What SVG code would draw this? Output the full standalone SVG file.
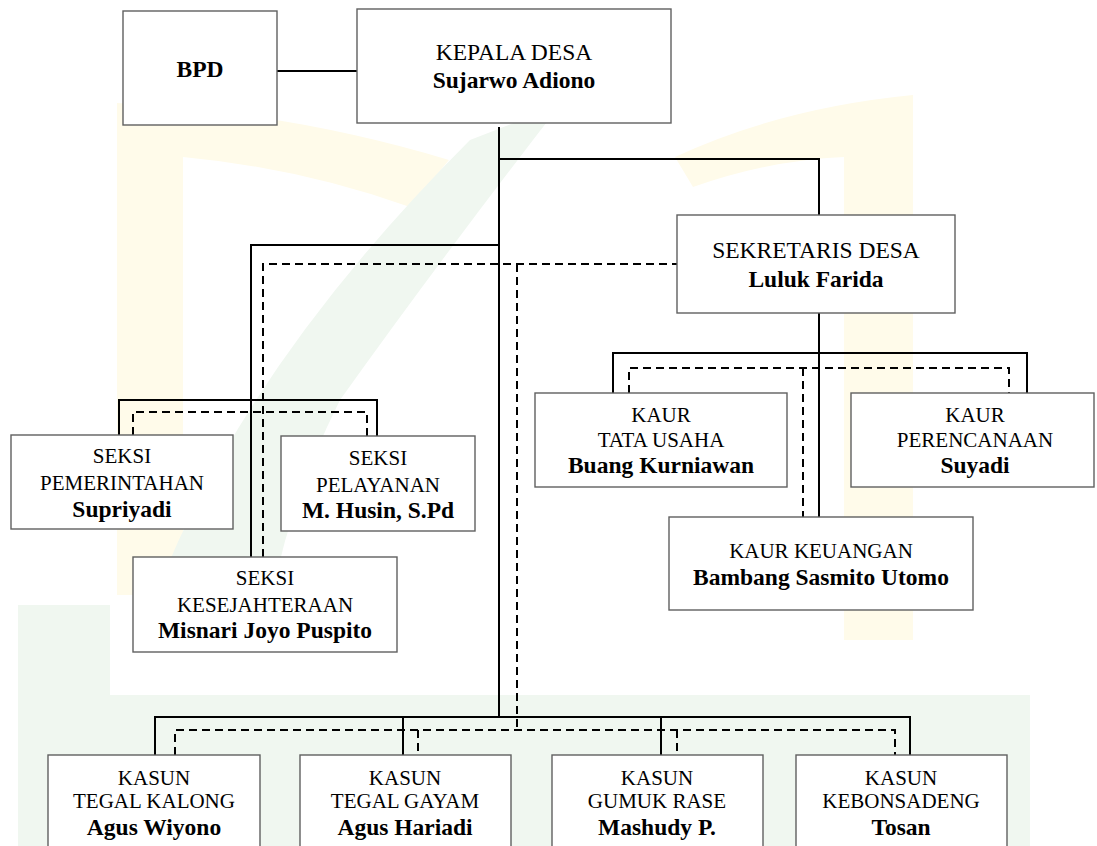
<svg xmlns="http://www.w3.org/2000/svg" width="1097" height="846" viewBox="0 0 1097 846">
<style>
.bx{fill:#fff;stroke:#606060;stroke-width:1.4}
.ln{fill:none;stroke:#000;stroke-width:2}
.ds{fill:none;stroke:#000;stroke-width:2;stroke-dasharray:8 5}
text{font-family:"Liberation Serif","Times New Roman",serif;text-anchor:middle;fill:#000}
.r{font-size:21px}
.t{font-size:23.5px}
.b{font-size:23.5px;font-weight:bold}
.wy{fill:#fffbea}
.wg{fill:#f0f7f0}
</style>
<rect width="1097" height="846" fill="#fff"/>
<g id="watermark">
<path class="wy" d="M117 595 V103 Q290 112 449 160 L410 207 Q300 168 183 157 V595 Z"/>
<path class="wy" d="M913 640 V95 Q780 108 675 157 L693 187 Q770 160 844 157 V640 Z"/>
<path class="wg" d="M140 640 Q220 390 470 140 L560 105 Q440 260 340 400 Q280 520 265 640 Z"/>
<path class="wg" d="M18 605 H110 V695 H1030 V846 H18 Z"/>
</g>
<g id="connectors">
<path class="ln" d="M277 71 H357"/>
<path class="ln" d="M499 127 V717"/>
<path class="ln" d="M499 159 H819 V215"/>
<path class="ln" d="M819 313 V517"/>
<path class="ln" d="M613 393 V353 H1027 V393"/>
<path class="ds" d="M629 393 V368 H1009 V393"/>
<path class="ds" d="M803 368 V517"/>
<path class="ln" d="M251 557 V245 H499"/>
<path class="ds" d="M263 557 V264 H677"/>
<path class="ds" d="M517 264 V730"/>
<path class="ln" d="M119 435 V400 H377 V436"/>
<path class="ds" d="M133 435 V412 H367 V436"/>
<path class="ln" d="M155 755 V717 H910 V755"/>
<path class="ln" d="M403 717 V755"/>
<path class="ln" d="M661 717 V755"/>
<path class="ds" d="M175 755 V730 H895 V755"/>
<path class="ds" d="M418 730 V755"/>
<path class="ds" d="M677 730 V755"/>
</g>
<g id="bpd"><rect class="bx" x="123" y="11" width="154" height="114"/><text class="b" x="200" y="77">BPD</text></g>
<g id="kepala"><rect class="bx" x="357" y="9" width="314" height="114"/><text class="t" x="514" y="60">KEPALA DESA</text><text class="b" x="514" y="88">Sujarwo Adiono</text></g>
<g id="sekretaris"><rect class="bx" x="677" y="215" width="278" height="98"/><text class="t" x="816" y="258">SEKRETARIS DESA</text><text class="b" x="816" y="287">Luluk Farida</text></g>
<g id="seksi-pemerintahan"><rect class="bx" x="11" y="435" width="222" height="94"/><text class="r" x="122" y="463">SEKSI</text><text class="r" x="122" y="490">PEMERINTAHAN</text><text class="b" x="122" y="517">Supriyadi</text></g>
<g id="seksi-pelayanan"><rect class="bx" x="281" y="436" width="194" height="95"/><text class="r" x="378" y="465">SEKSI</text><text class="r" x="378" y="492">PELAYANAN</text><text class="b" x="378" y="518">M. Husin, S.Pd</text></g>
<g id="seksi-kesejahteraan"><rect class="bx" x="133" y="557" width="264" height="95"/><text class="r" x="265" y="585">SEKSI</text><text class="r" x="265" y="612">KESEJAHTERAAN</text><text class="b" x="265" y="638">Misnari Joyo Puspito</text></g>
<g id="kaur-tu"><rect class="bx" x="535" y="393" width="252" height="94"/><text class="r" x="661" y="422">KAUR</text><text class="r" x="661" y="447">TATA USAHA</text><text class="b" x="661" y="473">Buang Kurniawan</text></g>
<g id="kaur-perencanaan"><rect class="bx" x="851" y="393" width="243" height="94"/><text class="r" x="975" y="422">KAUR</text><text class="r" x="975" y="447">PERENCANAAN</text><text class="b" x="975" y="473">Suyadi</text></g>
<g id="kaur-keuangan"><rect class="bx" x="669" y="517" width="304" height="93"/><text class="r" x="821" y="558">KAUR KEUANGAN</text><text class="b" x="821" y="585">Bambang Sasmito Utomo</text></g>
<g id="kasun-1"><rect class="bx" x="48" y="755" width="212" height="100"/><text class="r" x="154" y="785">KASUN</text><text class="r" x="154" y="808">TEGAL KALONG</text><text class="b" x="154" y="835">Agus Wiyono</text></g>
<g id="kasun-2"><rect class="bx" x="300" y="755" width="211" height="100"/><text class="r" x="405" y="785">KASUN</text><text class="r" x="405" y="808">TEGAL GAYAM</text><text class="b" x="405" y="835">Agus Hariadi</text></g>
<g id="kasun-3"><rect class="bx" x="552" y="755" width="211" height="100"/><text class="r" x="657" y="785">KASUN</text><text class="r" x="657" y="808">GUMUK RASE</text><text class="b" x="657" y="835">Mashudy P.</text></g>
<g id="kasun-4"><rect class="bx" x="796" y="755" width="211" height="100"/><text class="r" x="901" y="785">KASUN</text><text class="r" x="901" y="808">KEBONSADENG</text><text class="b" x="901" y="835">Tosan</text></g>
</svg>
